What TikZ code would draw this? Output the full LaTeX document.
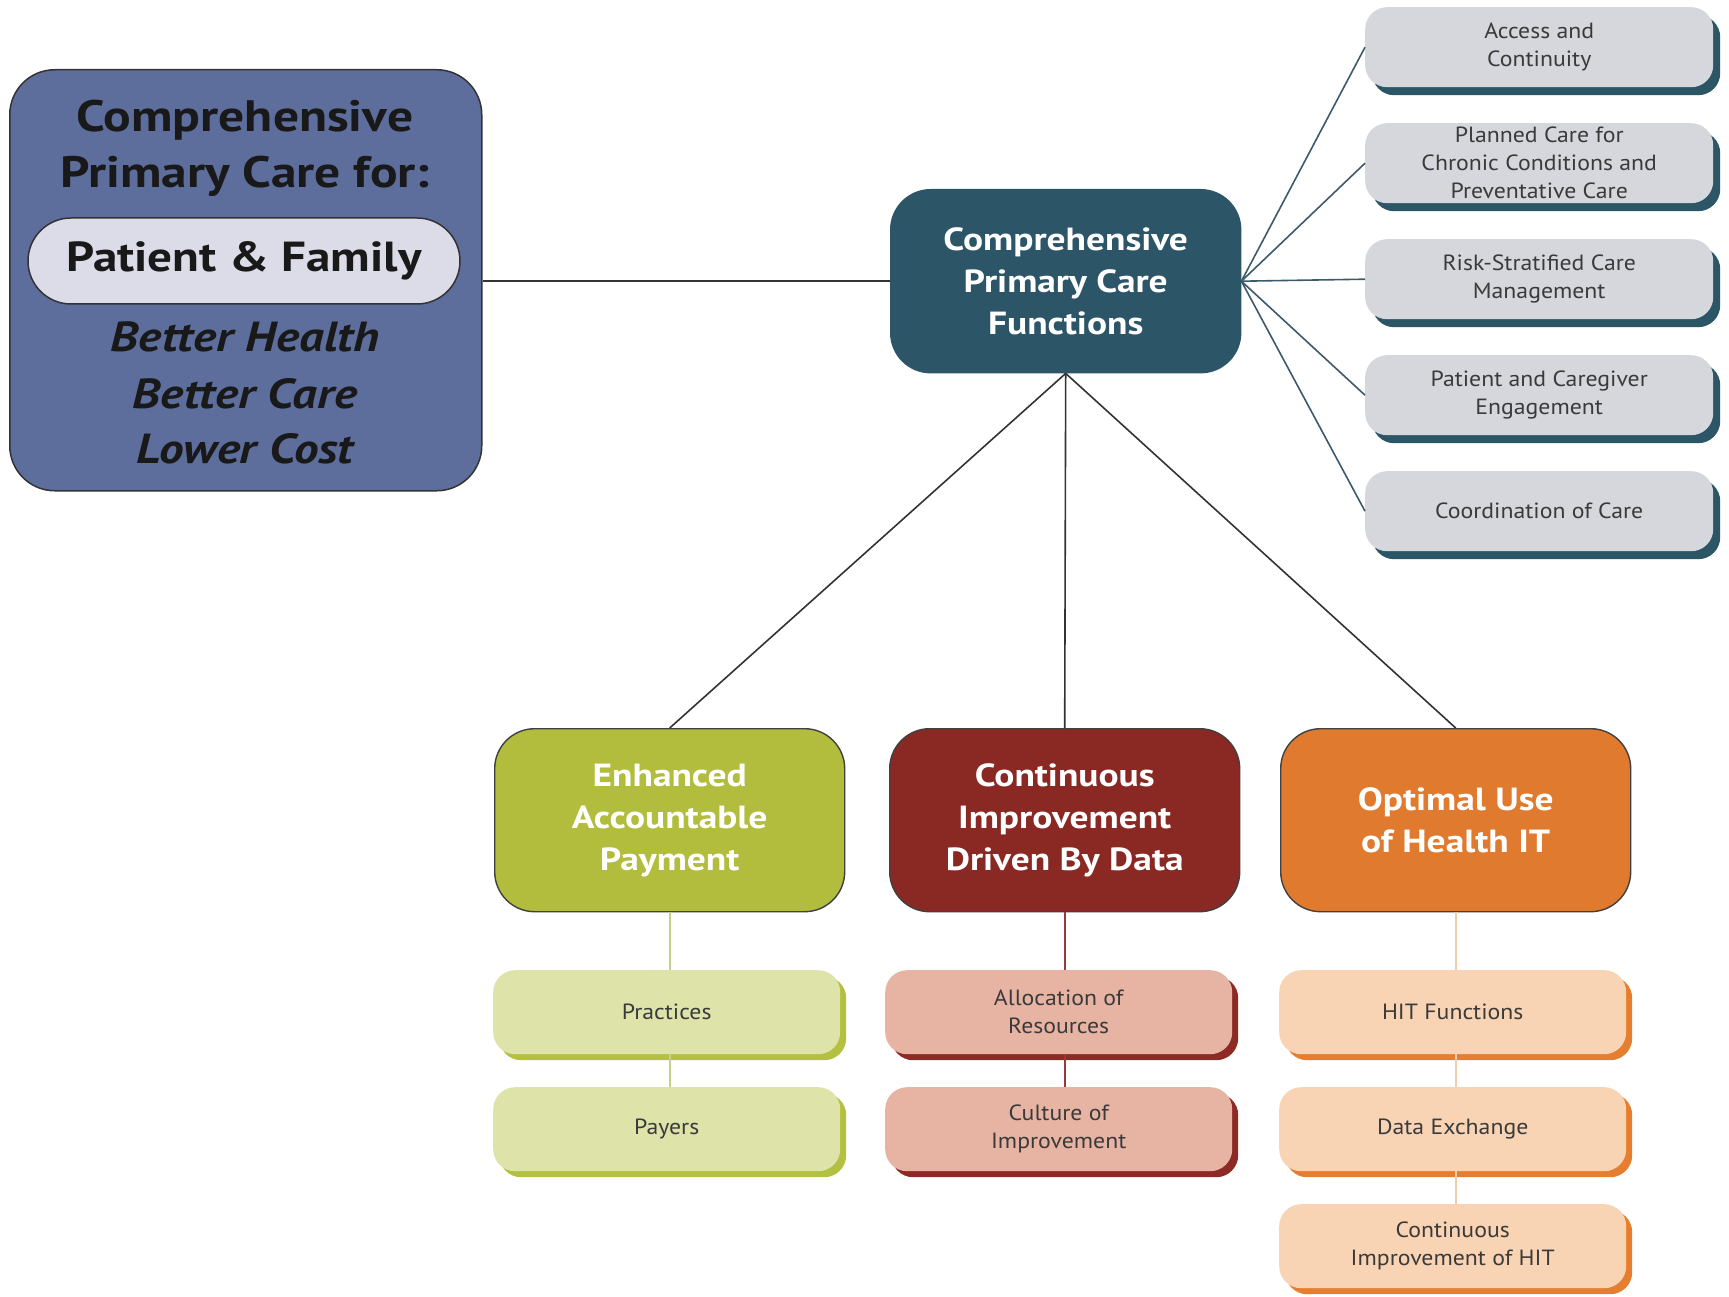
\documentclass[tikz,border=0pt]{standalone}
\usepackage{fontspec}
\setmainfont{PT Sans}[FakeStretch=1.08]
\newfontfamily\widebold{PT Sans}[FakeStretch=1.17]
\usetikzlibrary{shadows}
\definecolor{leftblue}{HTML}{5D6D9C}
\definecolor{pillfill}{HTML}{DCDCE8}
\definecolor{hubfill}{HTML}{2C5567}
\definecolor{grayface}{HTML}{D5D7DC}
\definecolor{grayshadow}{HTML}{2C5566}
\definecolor{fanline}{HTML}{3D5A6A}
\definecolor{greenbig}{HTML}{B2BD3E}
\definecolor{redbig}{HTML}{8A2924}
\definecolor{orangebig}{HTML}{E07A2E}
\definecolor{greensub}{HTML}{DEE3AA}
\definecolor{redsub}{HTML}{E7B4A4}
\definecolor{orangesub}{HTML}{F9D4B4}
\definecolor{greenshadow}{HTML}{B3C040}
\definecolor{redshadow}{HTML}{8D2A26}
\definecolor{orangeshadow}{HTML}{E57F2F}
\definecolor{greenlink}{HTML}{C8CF8A}
\definecolor{redlink}{HTML}{9B3A35}
\definecolor{orangelink}{HTML}{F1CDB0}
\definecolor{textdark}{HTML}{3A3A3A}
\tikzset{
  bigbox/.style={draw=black!75, line width=1.4pt, rounded corners=40pt, anchor=north west,
    inner sep=0pt, minimum width=350pt, minimum height=183pt, text=white, align=center,
    font=\fontsize{32}{42}\selectfont\widebold\bfseries},
  grayitem/.style={fill=grayface, rounded corners=22pt, anchor=north west, inner sep=0pt,
    minimum width=348pt, minimum height=80pt, align=center, text=textdark,
    font=\fontsize{22}{28}\selectfont,
    drop shadow={shadow xshift=7pt, shadow yshift=-8pt, fill=grayshadow, opacity=1}},
  subitem/.style={rounded corners=22pt, anchor=north west, inner sep=0pt,
    minimum width=347pt, minimum height=84pt, align=center, text=textdark,
    font=\fontsize{22}{28}\selectfont},
  greensubbox/.style={subitem, fill=greensub,
    drop shadow={shadow xshift=6pt, shadow yshift=-6pt, fill=greenshadow, opacity=1}},
  redsubbox/.style={subitem, fill=redsub,
    drop shadow={shadow xshift=6pt, shadow yshift=-6pt, fill=redshadow, opacity=1}},
  orangesubbox/.style={subitem, fill=orangesub,
    drop shadow={shadow xshift=6pt, shadow yshift=-6pt, fill=orangeshadow, opacity=1}},
  darkline/.style={draw=black!80, line width=1.6pt},
  fan/.style={draw=fanline, line width=1.6pt},
  lefttext/.style={font=\fontsize{44}{56}\selectfont\widebold\bfseries, text=black!90, inner sep=0pt},
  goaltext/.style={font=\fontsize{42}{56}\selectfont\widebold\bfseries\itshape, text=black!90, inner sep=0pt}
}
\begin{document}
\begin{tikzpicture}[x=1pt,y=-1pt]
\useasboundingbox (0,0) rectangle (1729,1297);
\fill[white] (0,0) rectangle (1729,1297);

% left box
\node[draw=black!80, line width=1.5pt, fill=leftblue, rounded corners=45pt, anchor=north west,
  inner sep=0pt, minimum width=472pt, minimum height=421pt] (lbox) at (9,69) {};
\node[lefttext] (t1) at (245,120) {Comprehensive};
\node[lefttext] (t2) at (245,176) {Primary Care for:};
\node[draw=black!80, line width=1.5pt, fill=pillfill, rounded corners=43pt, inner sep=0pt,
  minimum width=432pt, minimum height=86pt, font=\fontsize{42}{56}\selectfont\widebold\bfseries,
  text=black!90] (pill) at (244,261) {Patient \& Family};
\node[goaltext] (g1t) at (245,337) {Better Health};
\node[goaltext] (g2t) at (245,394) {Better Care};
\node[goaltext] (g3t) at (245,449) {Lower Cost};

% hub
\node[bigbox, fill=hubfill, draw=hubfill] (hub) at (890,189) {Comprehensive\\Primary Care\\Functions};

% right gray items
\node[grayitem] (a1) at (1365,7) {Access and\\Continuity};
\node[grayitem] (a2) at (1365,123) {Planned Care for\\Chronic Conditions and\\Preventative Care};
\node[grayitem] (a3) at (1365,239) {Risk-Stratified Care\\Management};
\node[grayitem] (a4) at (1365,355) {Patient and Caregiver\\Engagement};
\node[grayitem] (a5) at (1365,471) {Coordination of Care};

% big boxes
\node[bigbox, fill=greenbig] (pay) at (494,728) {Enhanced\\Accountable\\Payment};
\node[bigbox, fill=redbig] (imp) at (889,728) {Continuous\\Improvement\\Driven By Data};
\node[bigbox, fill=orangebig] (hit) at (1280,728) {Optimal Use\\of Health IT};

% sub items
\node[greensubbox] (p1) at (493,970) {Practices};
\node[greensubbox] (p2) at (493,1087) {Payers};
\node[redsubbox] (r1) at (885,970) {Allocation of\\Resources};
\node[redsubbox] (r2) at (885,1087) {Culture of\\Improvement};
\node[orangesubbox] (o1) at (1279,970) {HIT Functions};
\node[orangesubbox] (o2) at (1279,1087) {Data Exchange};
\node[orangesubbox] (o3) at (1279,1204) {Continuous\\Improvement of HIT};

% connectors
\draw[darkline] (lbox.east |- hub.west) -- (hub.west);
\foreach \n in {a1,a2,a3,a4,a5} \draw[fan] (hub.east) -- (\n.west);
\draw[darkline] (hub.south) -- (pay.north);
\draw[darkline] (hub.south) -- (imp.north);
\draw[darkline] (hub.south) -- (hit.north);

\draw[greenlink, line width=2pt] (pay.south) -- (pay.south |- p1.north);
\draw[greenlink, line width=2pt] (pay.south |- p1.south) -- (pay.south |- p2.north);
\draw[redlink, line width=1.6pt] (imp.south) -- (imp.south |- r1.north);
\draw[redlink, line width=1.6pt] (imp.south |- r1.south) -- (imp.south |- r2.north);
\draw[orangelink, line width=1.6pt] (hit.south) -- (hit.south |- o1.north);
\draw[orangelink, line width=1.6pt] (hit.south |- o1.south) -- (hit.south |- o2.north);
\draw[orangelink, line width=1.6pt] (hit.south |- o2.south) -- (hit.south |- o3.north);
\end{tikzpicture}
\end{document}
